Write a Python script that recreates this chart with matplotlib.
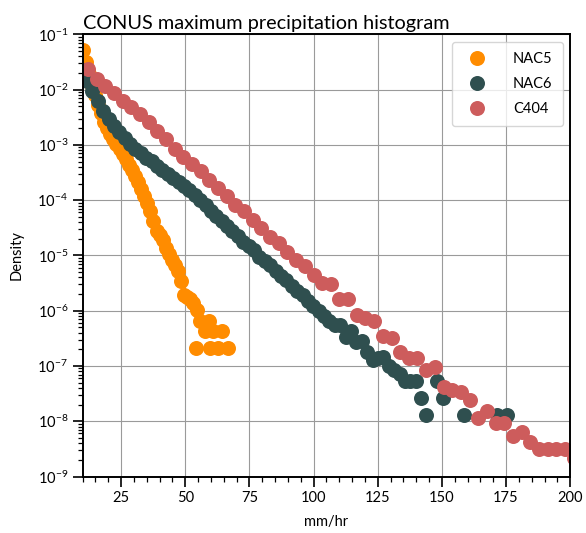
import numpy as np
import matplotlib
matplotlib.use('Agg')
import matplotlib.pyplot as plt
from matplotlib.ticker import MultipleLocator, LogLocator, NullFormatter

plt.rcParams['font.family'] = ['Lato', 'DejaVu Sans']

# bin centres (mm/hr) and log10 of density
nac5_x = [10.0, 11.2, 12.4, 13.6, 14.8, 16.0, 17.2, 18.4, 19.6, 20.8,
          22.0, 23.2, 24.4, 25.6, 26.8, 28.0, 29.2, 30.4, 31.6, 32.8,
          34.0, 35.2, 36.4, 37.6, 38.8, 40.0, 41.2, 42.4, 43.6, 44.8,
          46.0, 47.2, 48.4, 49.6, 50.8, 52.0, 53.1, 54.2, 54.6, 55.8,
          57.7, 59.3, 59.8, 60.9, 62.9, 64.2, 66.6]
nac5_log = [-1.28, -1.50, -1.72, -1.93, -2.10, -2.27, -2.43, -2.58, -2.70, -2.80,
            -2.89, -2.98, -3.07, -3.16, -3.26, -3.36, -3.46, -3.57, -3.68, -3.80,
            -3.92, -4.05, -4.20, -4.38, -4.55, -4.63, -4.72, -4.86, -4.98, -5.08,
            -5.18, -5.28, -5.47, -5.72, -5.75, -5.79, -5.86, -6.67, -5.98, -6.19,
            -6.37, -6.19, -6.67, -6.37, -6.67, -6.37, -6.67]

nac6_x = [9.6, 11.7, 13.8, 15.9, 18.0, 20.1, 22.2, 24.3, 26.4, 28.5, 30.6,
          32.7, 34.8, 36.9, 39.0, 41.1, 43.2, 45.3, 47.4, 49.5, 51.6,
          53.7, 55.8, 57.9, 60.0, 62.1, 64.2, 66.3, 68.4, 70.5, 72.6,
          74.7, 76.8, 78.9, 81.0, 83.1, 85.2, 87.3, 89.4, 91.5, 93.6,
          95.7, 97.8, 99.9, 102.0, 104.1, 106.2, 108.3, 110.4, 112.5, 114.6,
          116.7, 118.8, 120.9, 123.0, 125.1, 127.2, 129.3, 131.4, 133.5, 135.6,
          137.7, 139.8, 141.9, 144.0, 148.2, 150.3, 158.7, 171.3, 175.5]
nac6_log = [-1.64, -1.85, -2.03, -2.21, -2.39, -2.54, -2.66, -2.77, -2.88, -2.98, -3.07,
            -3.15, -3.23, -3.30, -3.38, -3.45, -3.52, -3.60, -3.67, -3.74, -3.81,
            -3.90, -3.99, -4.09, -4.19, -4.29, -4.38, -4.47, -4.56, -4.65, -4.75,
            -4.83, -4.91, -5.02, -5.10, -5.18, -5.29, -5.37, -5.45, -5.56, -5.64,
            -5.72, -5.83, -5.91, -6.00, -6.09, -6.19, -6.26, -6.25, -6.47, -6.36,
            -6.56, -6.55, -6.74, -6.90, -6.86, -6.84, -7.00, -7.07, -7.15, -7.28,
            -7.28, -7.28, -7.58, -7.88, -7.28, -7.58, -7.88, -7.88, -7.88]

c404_x = [12.1, 15.5, 18.8, 22.2, 25.6, 29.0, 32.4, 35.7, 39.1, 42.5,
          45.9, 49.3, 52.6, 56.0, 59.4, 62.8, 66.2, 69.5, 72.9, 76.3,
          79.7, 83.1, 86.4, 89.8, 93.2, 96.6, 100.0, 103.3, 106.7, 110.1,
          113.5, 116.9, 120.2, 123.6, 127.0, 130.4, 133.8, 137.1, 140.5, 143.9,
          147.3, 150.7, 154.0, 157.4, 160.8, 164.2, 167.6, 170.9, 174.3, 177.7,
          181.1, 184.5, 187.8, 191.2, 194.6, 198.0, 201.4]
c404_log = [-1.63, -1.80, -1.93, -2.06, -2.20, -2.32, -2.44, -2.58, -2.74, -2.90,
            -3.07, -3.22, -3.34, -3.48, -3.63, -3.78, -3.93, -4.08, -4.20, -4.35,
            -4.50, -4.66, -4.78, -4.93, -5.08, -5.20, -5.35, -5.50, -5.51, -5.79,
            -5.79, -6.07, -6.13, -6.19, -6.46, -6.49, -6.74, -6.86, -6.86, -7.07,
            -7.02, -7.38, -7.43, -7.48, -7.62, -7.94, -7.82, -8.03, -8.03, -8.27,
            -8.20, -8.38, -8.51, -8.51, -8.51, -8.51, -8.66]

series = [
    ('NAC5', nac5_x, nac5_log, 'darkorange'),
    ('NAC6', nac6_x, nac6_log, 'darkslategray'),
    ('C404', c404_x, c404_log, 'indianred'),
]

fig = plt.figure(figsize=(5.86, 5.33), dpi=100)
ax = fig.add_axes([0.141, 0.106, 0.832, 0.8295])

for name, xs, logs, col in series:
    ax.plot(xs, 10.0 ** np.array(logs), 'o', color=col, markersize=10.8,
            markeredgewidth=0, label=name)

ax.set_yscale('log')
ax.set_xlim(10, 200)
ax.set_ylim(1e-9, 1e-1)

ax.xaxis.set_major_locator(MultipleLocator(25))
ax.xaxis.set_minor_locator(MultipleLocator(5))
ax.yaxis.set_major_locator(LogLocator(base=10, numticks=20))
ax.yaxis.set_minor_locator(LogLocator(base=10, subs=np.arange(2, 10), numticks=20))
ax.yaxis.set_minor_formatter(NullFormatter())

ax.tick_params(which='major', length=7, width=1.2, labelsize=10.5, pad=3.5)
ax.tick_params(which='minor', length=3.5, width=0.9)
for s in ax.spines.values():
    s.set_linewidth(1.4)

ax.grid(True, which='major', color='#9a9a9a', linewidth=0.8)
ax.set_axisbelow(True)

ax.set_xlabel('mm/hr', fontsize=10.5, labelpad=7)
ax.set_ylabel('Density', fontsize=10.5, labelpad=10)
ax.set_title('CONUS maximum precipitation histogram', loc='left', fontsize=14.3, pad=4)

ax.legend(loc='upper right', fontsize=10.5, labelspacing=0.75, handletextpad=1.5,
          borderpad=0.7, fancybox=True)

fig.savefig('out.png', dpi=100)
